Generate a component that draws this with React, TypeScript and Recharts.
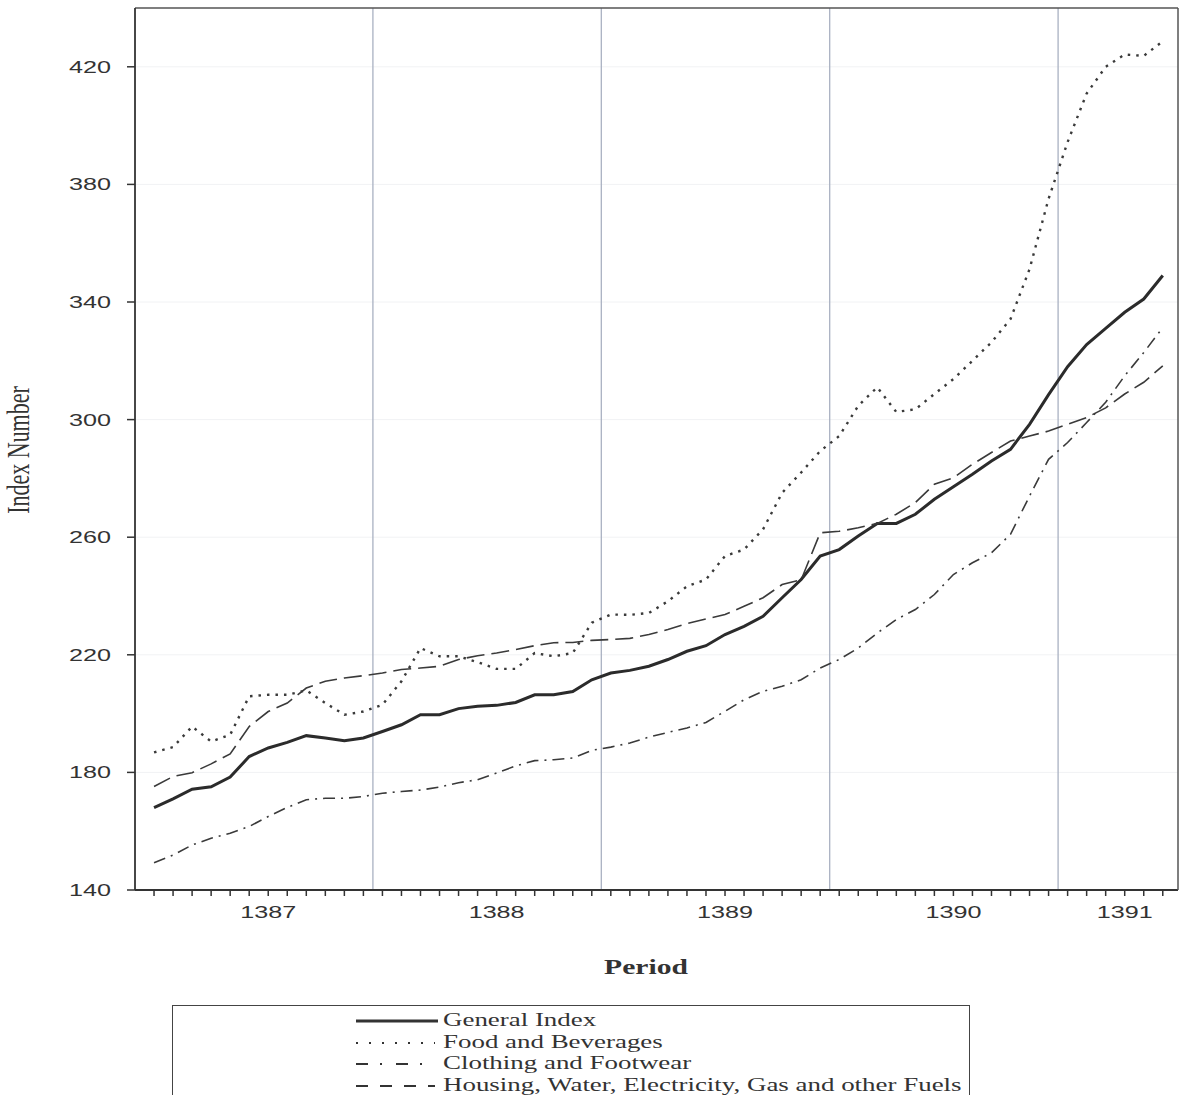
import React from 'react'
import {
  LineChart,
  Line,
  XAxis,
  YAxis,
  CartesianGrid,
  ReferenceLine,
} from 'recharts'

// years shown on the axis, and how many monthly readings each one has
const years = ['1387', '1388', '1389', '1390', '1391']
const monthsPerYear = [12, 12, 12, 12, 6]

const generalIndex = [
  168, 171, 174.3, 175.1, 178.4, 185.4, 188.3, 190.2, 192.5, 191.7, 190.8, 191.7,
  193.9, 196.2, 199.6, 199.6, 201.7, 202.5, 202.8, 203.8, 206.4, 206.4, 207.5, 211.5,
  213.8, 214.7, 216.1, 218.4, 221.2, 223.1, 226.9, 229.7, 233.1, 239.4, 245.6, 253.6,
  255.8, 260.4, 264.7, 264.7, 267.8, 272.9, 277.2, 281.4, 285.9, 289.9, 298.4, 308.5,
  318, 325.5, 331, 336.5, 341, 349,
]

const foodBeverages = [
  186.8, 188.6, 195.6, 190.5, 192.8, 205.9, 206.4, 206.4, 207.9, 203.6, 199.6, 200.7,
  203, 211, 222.3, 219.5, 219.5, 217.5, 215.2, 215.2, 220.6, 219.5, 220.6, 230.9,
  233.7, 233.6, 234.2, 238.2, 243.3, 245.6, 253.6, 255.8, 262.7, 275.1, 282, 289.3,
  294.4, 304.7, 311, 302.6, 303.5, 308.7, 313.8, 320, 326.3, 334.2, 351.2, 375.1,
  394.4, 410.9, 420, 424.2, 423.7, 428.7,
]

const clothingFootwear = [
  149.3, 151.9, 155.3, 157.6, 159.3, 161.6, 165, 168.1, 170.7, 171.2, 171.2, 171.8,
  172.9, 173.5, 174, 175, 176.5, 177.5, 179.8, 182.2, 184, 184.3, 184.9, 187.5,
  188.6, 190, 192, 193.6, 195.1, 197, 200.8, 204.7, 207.6, 209.3, 211.5, 215.5,
  218.4, 222.3, 227.4, 232, 235.4, 240.5, 247.3, 251.3, 254.7, 261, 274, 286.5,
  292.2, 299, 305.9, 314.9, 322.8, 331.3,
]

const housingFuels = [
  175.2, 178.6, 179.9, 182.9, 186.3, 195.6, 200.7, 203.6, 208.7, 211, 212.1, 212.9,
  213.8, 215, 215.5, 216.1, 218.4, 219.7, 220.6, 221.8, 223.1, 224.1, 224.2, 224.9,
  225.2, 225.6, 226.9, 228.6, 230.6, 232.2, 233.7, 236.5, 239.4, 243.9, 245.5, 261.5,
  262, 263.2, 264.7, 267.8, 271.8, 278, 280.2, 284.8, 288.8, 292.7, 294.4, 296.1,
  298.4, 300.7, 304, 308.7, 312.7, 318.3,
]

const yTicks = [140, 180, 220, 260, 300, 340, 380, 420]

const series = [
  { key: 'general', name: 'General Index', width: 3, dash: undefined, color: '#2b2b2b' },
  { key: 'food', name: 'Food and Beverages', width: 2.4, dash: '2.5 6', color: '#3a3a3a' },
  { key: 'clothing', name: 'Clothing and Footwear', width: 1.6, dash: '12 6 2 6', color: '#3a3a3a' },
  { key: 'housing', name: 'Housing, Water, Electricity, Gas and other Fuels', width: 1.6, dash: '18 7', color: '#3a3a3a' },
]

const legendDash: Record<string, string | undefined> = {
  general: undefined,
  food: '2 11',
  clothing: '12 12 2 14',
  housing: '12 12',
}

// build the monthly rows
const data: any[] = []
const yearStart: number[] = []
years.forEach((y, yi) => {
  yearStart.push(data.length)
  for (let m = 1; m <= monthsPerYear[yi]; m++) {
    const i = data.length
    data.push({
      idx: i,
      period: `${y}-${m}`,
      general: generalIndex[i],
      food: foodBeverages[i],
      clothing: clothingFootwear[i],
      housing: housingFuels[i],
    })
  }
})
const xTicks = data.map((d) => d.idx)
const labelAt: Record<number, string> = {}
years.forEach((y, yi) => {
  labelAt[yearStart[yi] + Math.floor(monthsPerYear[yi] / 2)] = y
})
const separators = yearStart.slice(1).map((s) => s - 0.5)

// the scan is stretched sideways, so text gets widened about its anchor
const STRETCH = 1.48
const widen = (x: number) => `matrix(${STRETCH},0,0,1,${(1 - STRETCH) * x},0)`

const XTick = (props: any) => {
  const { x, y, payload } = props
  const label = labelAt[payload.value]
  return (
    <g>
      <line x1={x} y1={y} x2={x} y2={y + 6} stroke="#333" strokeWidth={1.5} />
      {label && (
        <text
          x={x}
          y={y + 28}
          textAnchor="middle"
          fontFamily="'Liberation Sans', Arial, sans-serif"
          fontSize={17}
          fill="#333"
          transform={widen(x)}
        >
          {label}
        </text>
      )}
    </g>
  )
}

const YTick = (props: any) => {
  const { x, y, payload } = props
  return (
    <text
      x={x - 2}
      y={y + 6}
      textAnchor="end"
      fontFamily="'Liberation Sans', Arial, sans-serif"
      fontSize={17}
      fill="#333"
      transform={widen(x - 2)}
    >
      {payload.value}
    </text>
  )
}

const YTitle = () => (
  <text
    transform={`translate(29,450) scale(${STRETCH},1) rotate(-90)`}
    textAnchor="middle"
    fontFamily="'Liberation Serif', 'Times New Roman', serif"
    fontSize={22}
    fill="#333"
  >
    Index Number
  </text>
)

const XTitle = () => (
  <text
    x={646}
    y={974}
    textAnchor="middle"
    fontFamily="'Liberation Serif', 'Times New Roman', serif"
    fontWeight="bold"
    fontSize={20}
    fill="#333"
    transform={widen(646)}
  >
    Period
  </text>
)

function ChartLegend() {
  return (
    <div
      style={{
        position: 'absolute',
        left: 172,
        top: 1005,
        width: 796,
        height: 110,
        border: '1.5px solid #444',
        background: '#fff',
      }}
    >
      {series.map((s, i) => (
        <div
          key={s.key}
          style={{ position: 'absolute', left: 0, top: 4 + i * 21.5, height: 21, width: '100%' }}
        >
          <svg width={90} height={21} style={{ position: 'absolute', left: 182, top: 0 }}>
            <line
              x1={1}
              y1={11}
              x2={s.key === 'general' ? 83 : 80}
              y2={11}
              stroke="#333"
              strokeWidth={s.key === 'general' ? 3 : 1.8}
              strokeDasharray={legendDash[s.key]}
            />
          </svg>
          <span
            style={{
              position: 'absolute',
              left: 270,
              top: 0,
              fontFamily: "'Liberation Serif', 'Times New Roman', serif",
              fontSize: 18.2,
              lineHeight: '21px',
              color: '#333',
              whiteSpace: 'nowrap',
              transform: `scaleX(${STRETCH})`,
              transformOrigin: 'left center',
            }}
          >
            {s.name}
          </span>
        </div>
      ))}
    </div>
  )
}

export default function App() {
  return (
    <div style={{ position: 'absolute', left: 0, top: 0, width: 1184, height: 1095, overflow: 'hidden', background: '#fff' }}>
      <LineChart
        width={1184}
        height={1000}
        data={data}
        margin={{ top: 7, right: 5, left: 0, bottom: 0 }}
      >
        <CartesianGrid vertical={false} stroke="#f1f2f4" horizontalValues={yTicks} />
        <XAxis
          dataKey="idx"
          type="number"
          domain={[-1, 53.8]}
          ticks={xTicks}
          interval={0}
          height={110}
          tickLine={false}
          tickSize={0}
          tickMargin={0}
          axisLine={{ stroke: '#333', strokeWidth: 1.8 }}
          tick={<XTick />}
          label={<XTitle />}
          allowDataOverflow
        />
        <XAxis
          xAxisId="frame"
          orientation="top"
          dataKey="idx"
          type="number"
          domain={[-1, 53.8]}
          height={1}
          tick={false}
          tickLine={false}
          axisLine={{ stroke: '#555', strokeWidth: 1.5 }}
        />
        <YAxis
          type="number"
          domain={[140, 440]}
          ticks={yTicks}
          width={135}
          tickSize={8}
          tickMargin={14}
          tickLine={{ stroke: '#333', strokeWidth: 1.5 }}
          axisLine={{ stroke: '#333', strokeWidth: 1.8 }}
          tick={<YTick />}
          label={<YTitle />}
          allowDataOverflow
        />
        <YAxis
          yAxisId="frame"
          orientation="right"
          type="number"
          domain={[140, 440]}
          width={1}
          tick={false}
          tickLine={false}
          axisLine={{ stroke: '#555', strokeWidth: 1.5 }}
        />
        {separators.map((s) => (
          <ReferenceLine key={s} x={s} stroke="#a9b1c2" strokeWidth={1.3} />
        ))}
        {series.map((s) => (
          <Line
            key={s.key}
            type="linear"
            dataKey={s.key}
            name={s.name}
            stroke={s.color}
            strokeWidth={s.width}
            strokeDasharray={s.dash}
            dot={false}
            activeDot={false}
            isAnimationActive={false}
          />
        ))}
      </LineChart>
      <ChartLegend />
    </div>
  )
}
